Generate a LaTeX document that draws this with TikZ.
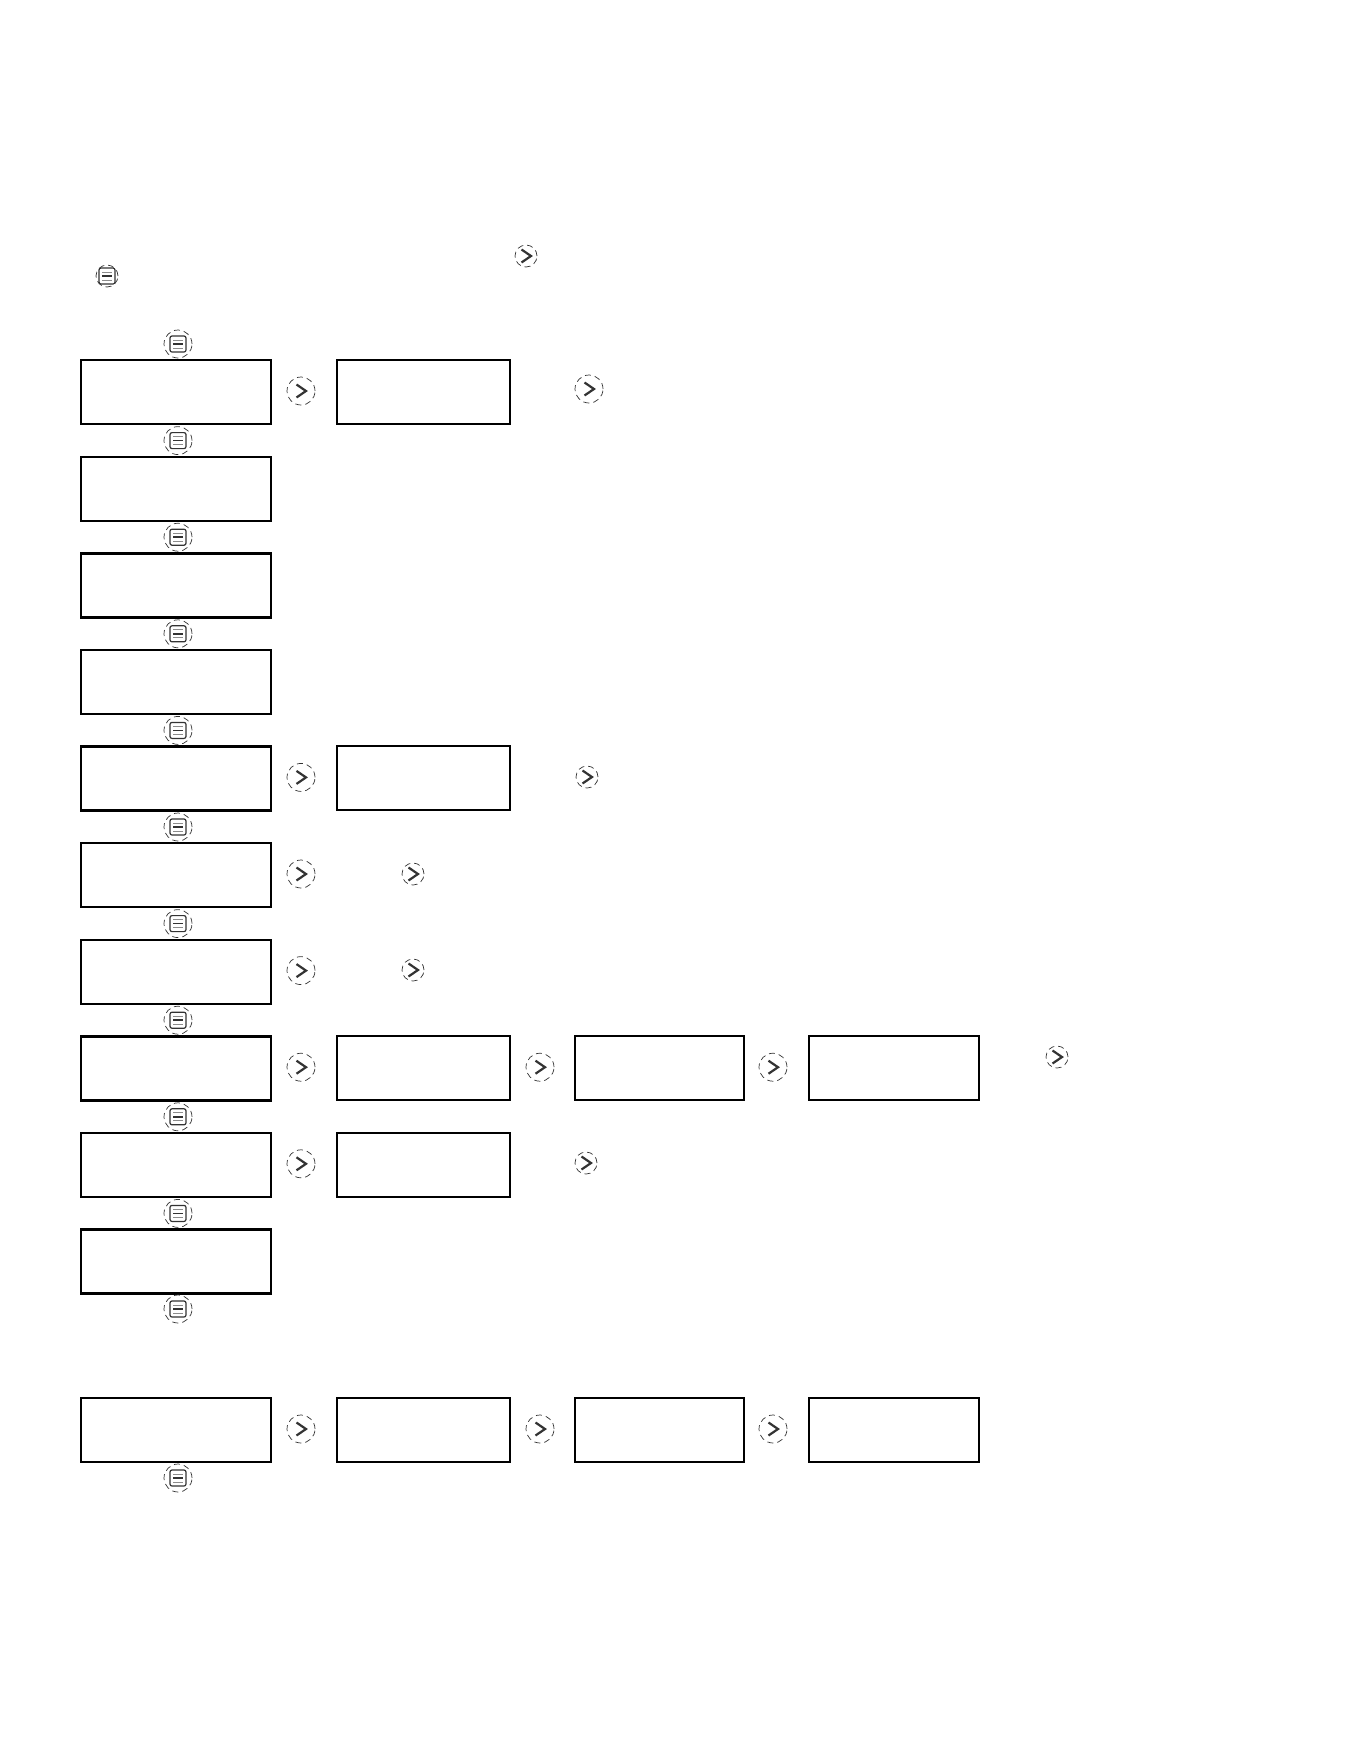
\documentclass[tikz,border=0pt]{standalone}
\usetikzlibrary{positioning}

\begin{document}
\begin{tikzpicture}[x=0.5pt,y=-0.5pt,
    screen/.style={draw, inner sep=0pt, minimum height=32pt, anchor=north west, line width=1pt},
    key/.style={circle, draw=black!80, densely dashed, line width=0.35pt, minimum size=#1*0.5pt, inner sep=0pt},
    menukey/.style={key=#1, path picture={
        \begin{scope}[shift={(path picture bounding box.center)}, scale=#1/28]
          \draw[solid, line width=0.6pt, rounded corners=1pt] (-8,-8) rectangle (8,8);
          \draw[solid, black!45, line width=0.5pt] (-5,-4) -- (5,-4) (-5,4) -- (5,4);
          \draw[solid, line width=0.8pt] (-5,0) -- (5,0);
        \end{scope}}},
    nextkey/.style={key=#1, path picture={
        \draw[solid, line width=1.1pt, shift={(path picture bounding box.center)}, scale=#1/28]
          (-4.5,-6.5) -- (5,0) -- (-4.5,6.5);}}]
  \fill[white] (0,0) rectangle (1361,1761);
  \useasboundingbox (0,0) rectangle (1361,1761);

  % keys in the intro text
  \node[menukey=22] (m-intro) at (107,276) {};
  \node[nextkey=22] (n-intro) at (526,256) {};

  % main menu column
  \foreach \r in {0,...,9}{
    \pgfmathsetmacro{\y}{359+96.6*\r}
    \node[screen, line width=1.2pt, minimum width=95pt] (s\r-1) at (80,\y) {};
    \node[menukey=28] (m\r) at (178,\y-15) {};
  }
  \node[menukey=28] (m10) at (178,1309) {};
  \node[screen, line width=1.2pt, minimum width=95pt] (s10-1) at (80,1397) {};
  \node[menukey=28] (m11) at (178,1478) {};

  % sub screens
  \foreach \r/\y in {0/359,4/745.4,7/1035.2,8/1131.8,10/1397}
    \node[screen, minimum width=86.5pt] (s\r-2) at (336,\y) {};
  \foreach \r/\y in {7/1035.2,10/1397}{
    \node[screen, minimum width=84.5pt] (s\r-3) at (574,\y) {};
    \node[screen, minimum width=85pt] (s\r-4) at (808,\y) {};
    \node[nextkey=28] (n\r-2) at (540,\y+32) {};
    \node[nextkey=28] (n\r-3) at (773,\y+32) {};
  }

  % next keys
  \foreach \r/\y in {0/359,4/745.4,5/842,6/938.6,7/1035.2,8/1131.8,10/1397}
    \node[nextkey=28] (n\r-1) at (301,\y+32) {};
  \node[nextkey=28] (n0-x) at (589,389) {};
  \foreach \r/\x/\y in {4/587/777,5/413/874,6/413/970,7/1057/1057,8/586/1163}
    \node[nextkey=22] (n\r-x) at (\x,\y) {};
\end{tikzpicture}
\end{document}
